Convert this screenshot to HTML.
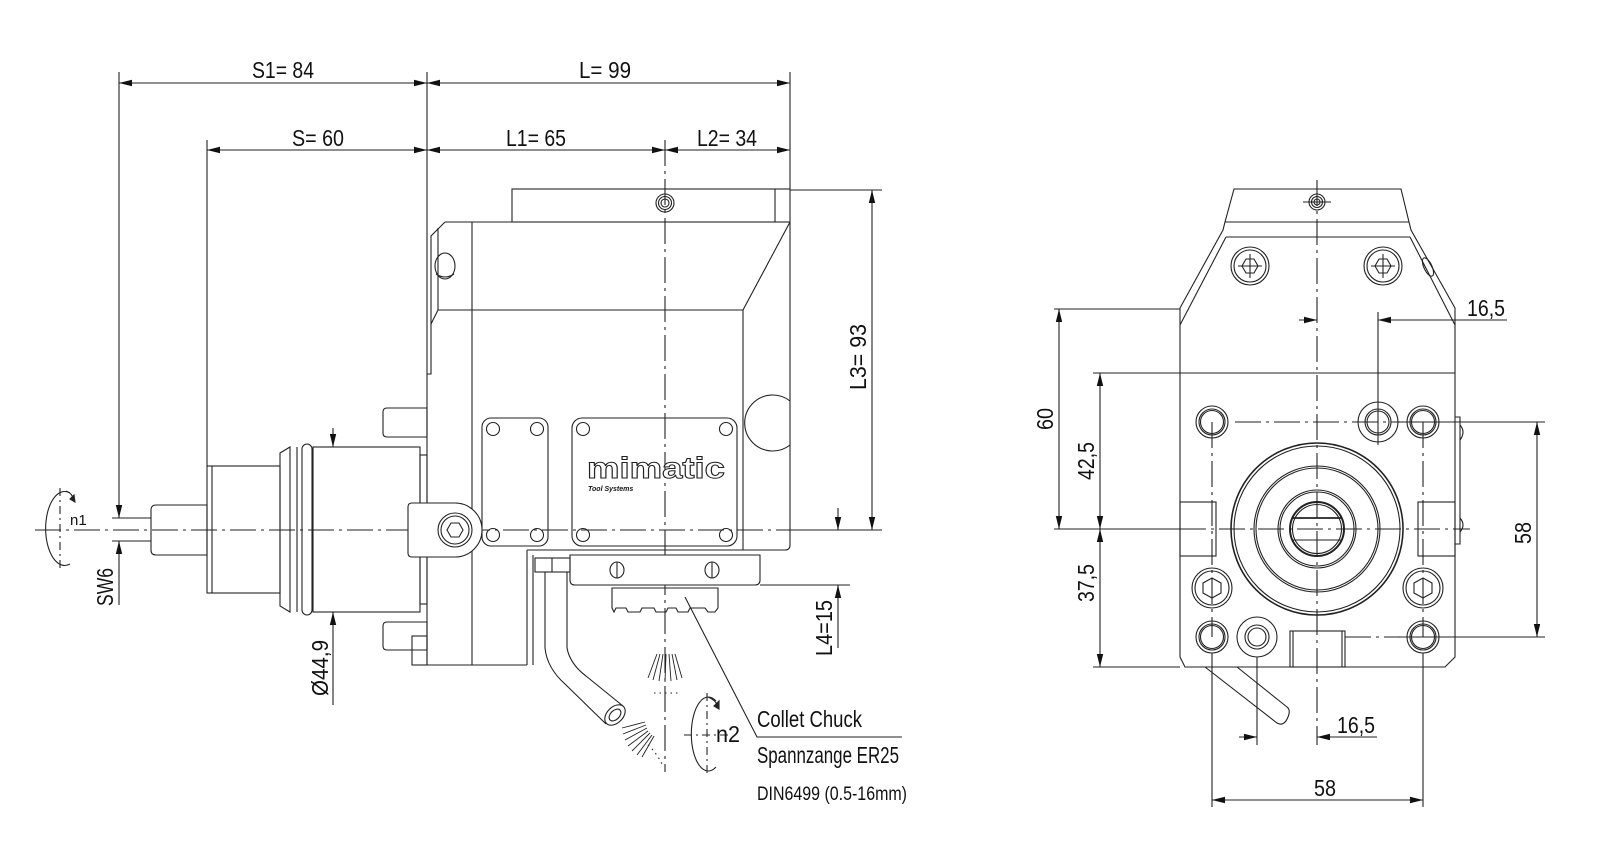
<!DOCTYPE html>
<html><head><meta charset="utf-8"><style>
html,body{margin:0;padding:0;background:#fff;}
svg{display:block;}
text{font-family:"Liberation Sans",sans-serif;fill:#111;}
</style></head><body>
<svg width="1600" height="861" viewBox="0 0 1600 861" xmlns="http://www.w3.org/2000/svg">
<defs>
<marker id="a" markerWidth="14" markerHeight="8" refX="13" refY="4" orient="auto-start-reverse" markerUnits="userSpaceOnUse">
<path d="M0,0.8 L13,4 L0,7.2 Z" fill="#111"/></marker>
</defs>
<g fill="none" stroke="#222" stroke-width="1.1">
<!-- ===== LEFT VIEW DIMENSIONS ===== -->
<line x1="119" y1="83" x2="427" y2="83" marker-start="url(#a)" marker-end="url(#a)"/>
<line x1="427" y1="83" x2="790" y2="83" marker-start="url(#a)" marker-end="url(#a)"/>
<line x1="207" y1="150" x2="427" y2="150" marker-start="url(#a)" marker-end="url(#a)"/>
<line x1="427" y1="150" x2="665" y2="150" marker-start="url(#a)" marker-end="url(#a)"/>
<line x1="665" y1="150" x2="790" y2="150" marker-start="url(#a)" marker-end="url(#a)"/>
<line x1="119" y1="72" x2="119" y2="518" marker-end="url(#a)"/>
<line x1="119" y1="605" x2="119" y2="541" marker-end="url(#a)"/>
<line x1="112" y1="518" x2="151" y2="518"/><line x1="112" y1="541" x2="151" y2="541"/>
<line x1="207" y1="140" x2="207" y2="466"/>
<line x1="427" y1="72" x2="427" y2="222"/>
<line x1="790" y1="72" x2="790" y2="189"/>
<!-- L3 / L4 -->
<line x1="872" y1="190" x2="872" y2="530" marker-start="url(#a)" marker-end="url(#a)"/>
<line x1="790" y1="190" x2="882" y2="190"/>
<line x1="790" y1="530" x2="882" y2="530"/>
<line x1="838" y1="508" x2="838" y2="530" marker-end="url(#a)"/>
<line x1="838" y1="648" x2="838" y2="585" marker-end="url(#a)"/>
<line x1="760" y1="585" x2="850" y2="585"/>
<!-- diameter -->
<line x1="333" y1="428" x2="333" y2="447" marker-end="url(#a)"/>
<line x1="333" y1="705" x2="333" y2="612" marker-end="url(#a)"/>

<!-- axes -->
<line x1="35" y1="530" x2="790" y2="530" stroke-dasharray="26 5 3 5"/>
<line x1="665" y1="140" x2="665" y2="772" stroke-dasharray="26 5 3 5"/>

<!-- n1 -->
<path d="M70,493 A19,37 0 1 0 70,564"/>
<path d="M66,491 Q72,493 74,500" /><path d="M70,499 L75,502 L74,495 Z" fill="#222"/>
<line x1="60" y1="488" x2="60" y2="572" stroke-dasharray="8 4 2 4"/>

<!-- shaft -->
<path d="M156,505 L207,505 L207,555 L156,555 Q151,555 151,550 L151,510 Q151,505 156,505 Z"/>
<rect x="207" y="466" width="73" height="127"/>
<line x1="212" y1="466" x2="212" y2="593"/>
<path d="M280,453 L290,447 L290,612 L280,606 Z"/>
<line x1="297" y1="447" x2="297" y2="612"/>
<rect x="302" y="444" width="10" height="171" rx="5"/>
<rect x="313" y="447" width="107" height="165"/>
<rect x="420" y="455" width="7" height="149"/>
<!-- studs -->
<path d="M387,408 L427,408 L427,437 L387,437 Q383,437 383,433 L383,412 Q383,408 387,408 Z"/>
<path d="M387,622 L427,622 L427,650 L387,650 Q383,650 383,646 L383,626 Q383,622 387,622 Z"/>
<rect x="412" y="636" width="15" height="29"/>

<!-- main body -->
<rect x="512" y="189" width="278" height="33"/>
<line x1="775" y1="189" x2="775" y2="222"/>
<circle cx="665" cy="203" r="9"/><circle cx="665" cy="203" r="6.5"/><circle cx="665" cy="203" r="4"/>
<line x1="445" y1="222" x2="790" y2="222"/>
<polyline points="445,222 431,236 431,374 427,374"/>
<polyline points="438,228 438,310 431,324"/>
<line x1="427" y1="222" x2="427" y2="665"/>
<ellipse cx="445" cy="266" rx="10" ry="13"/>
<path d="M436,274 Q445,280 454,274"/>
<line x1="472" y1="222" x2="472" y2="665"/>
<line x1="438" y1="310" x2="743" y2="310"/>
<line x1="790" y1="222" x2="743" y2="310"/>
<line x1="743" y1="310" x2="743" y2="550"/>
<path d="M790,222 L790,545 Q790,550 785,550 L527,550"/>
<path d="M790,401 A28,28 0 1 0 790,445"/>
<line x1="412" y1="665" x2="527" y2="665"/>
<line x1="527" y1="550" x2="527" y2="665"/>
<line x1="533" y1="555" x2="533" y2="665"/>
<!-- plates -->
<rect x="482" y="418" width="66" height="128" rx="9"/>
<circle cx="493" cy="429" r="6.5"/><circle cx="537" cy="429" r="6.5"/><circle cx="493" cy="535" r="6.5"/><circle cx="537" cy="535" r="6.5"/>
<rect x="572" y="418" width="165" height="128" rx="10"/>
<circle cx="583" cy="429" r="6.5"/><circle cx="726" cy="429" r="6.5"/><circle cx="583" cy="535" r="6.5"/><circle cx="726" cy="535" r="6.5"/>
<!-- clamp -->
<path d="M412,503 L455,503 A27,27 0 0 1 455,557 L412,557 Q408,557 408,553 L408,507 Q408,503 412,503 Z" fill="#fff"/>
<circle cx="455" cy="530" r="17"/><circle cx="455" cy="530" r="14"/>
<polygon points="463,530 459,537 451,537 447,530 451,523 459,523"/>
<!-- collet housing -->
<path d="M570,555 L760,555 L760,580 Q760,585 755,585 L575,585 Q570,585 570,580 Z" fill="#fff"/>
<ellipse cx="617" cy="570" rx="7" ry="8"/><line x1="617" y1="562" x2="617" y2="578"/>
<ellipse cx="712" cy="570" rx="7" ry="8"/><line x1="712" y1="562" x2="712" y2="578"/>
<path d="M608,585 L722,585 M612,588 L718,588 L718,608 L715,612 L708,612 L705,608 L690,608 L688,612 L678,612 L676,608 L668,608 L666,612 L656,612 L654,608 L642,608 L640,612 L628,612 L626,608 L616,608 L614,612 L612,608 Z"/>
<rect x="535" y="558" width="35" height="14"/><line x1="552" y1="558" x2="552" y2="572"/>
<!-- pipe -->
<path d="M545,572 L545,648 Q547,668 565,684 L606,724"/>
<path d="M567,572 L567,648 Q570,664 586,676 L623,706"/>
<ellipse cx="615" cy="715" rx="8" ry="12" transform="rotate(45 615 715)"/>
<ellipse cx="615" cy="715" rx="4.5" ry="7" transform="rotate(45 615 715)"/>
<!-- fans -->
<g stroke-width="0.9">
<line x1="657" y1="654" x2="648" y2="678"/><line x1="660" y1="654" x2="653" y2="680"/><line x1="663" y1="654" x2="659" y2="681"/><line x1="666" y1="654" x2="665" y2="682"/><line x1="669" y1="654" x2="671" y2="681"/><line x1="672" y1="654" x2="677" y2="680"/><line x1="675" y1="654" x2="682" y2="678"/>
<line x1="645" y1="722" x2="622" y2="728"/><line x1="646" y1="725" x2="623" y2="734"/><line x1="647" y1="728" x2="625" y2="740"/><line x1="648" y1="731" x2="628" y2="746"/><line x1="650" y1="733" x2="632" y2="751"/><line x1="652" y1="735" x2="637" y2="755"/><line x1="654" y1="736" x2="642" y2="757"/>
</g>
<line x1="654" y1="693" x2="680" y2="693" stroke-dasharray="1.5 4"/>
<path d="M648,745 Q656,752 662,764" stroke-dasharray="1.5 4"/>
<!-- n2 -->
<path d="M716,701 A17,37 0 1 0 716,767"/>
<path d="M708,697 Q716,700 718,707"/><path d="M714,706 L719,709 L719,701 Z" fill="#222"/>
<line x1="707" y1="693" x2="707" y2="775" stroke-dasharray="8 4 2 4"/>
<line x1="684" y1="735" x2="730" y2="735" stroke-dasharray="8 4 2 4"/>
<!-- leader -->
<polyline points="685,597 757,737 902,737"/>

<!-- ===== RIGHT VIEW ===== -->
<path d="M1234,189 L1401,189 L1409,222 L1411,230 L1455,308 L1455,657 L1445,667 L1185,667 L1180,657 L1180,308 L1223,230 L1225,222 Z"/>
<line x1="1225" y1="222" x2="1409" y2="222"/>
<line x1="1226" y1="237" x2="1410" y2="237"/>
<line x1="1226" y1="237" x2="1180" y2="325"/>
<line x1="1410" y1="237" x2="1455" y2="325"/>
<ellipse cx="1428" cy="267" rx="4" ry="10" transform="rotate(-25 1428 267)"/>
<circle cx="1317" cy="202" r="8"/><circle cx="1317" cy="202" r="5.5"/><circle cx="1317" cy="202" r="3"/>
<line x1="1303" y1="202" x2="1331" y2="202"/>
<!-- upper bolts -->
<circle cx="1250" cy="266" r="19"/><circle cx="1250" cy="266" r="16"/>
<polygon points="1258,266 1254,273 1246,273 1242,266 1246,259 1254,259"/>
<line x1="1238" y1="266" x2="1262" y2="266"/><line x1="1250" y1="254" x2="1250" y2="278"/>
<circle cx="1383" cy="266" r="19"/><circle cx="1383" cy="266" r="16"/>
<polygon points="1391,266 1387,273 1379,273 1375,266 1379,259 1387,259"/>
<line x1="1371" y1="266" x2="1395" y2="266"/><line x1="1383" y1="254" x2="1383" y2="278"/>
<!-- body lines & dims -->
<line x1="1054" y1="309" x2="1180" y2="309"/>
<line x1="1093" y1="373" x2="1455" y2="373"/>
<line x1="1054" y1="529" x2="1180" y2="529"/>
<line x1="1093" y1="667" x2="1180" y2="667"/>
<line x1="1059" y1="309" x2="1059" y2="529" marker-start="url(#a)" marker-end="url(#a)"/>
<line x1="1100" y1="373" x2="1100" y2="529" marker-start="url(#a)" marker-end="url(#a)"/>
<line x1="1100" y1="529" x2="1100" y2="667" marker-start="url(#a)" marker-end="url(#a)"/>
<line x1="1180" y1="529" x2="1470" y2="529" stroke-dasharray="26 5 3 5"/>
<line x1="1317" y1="180" x2="1317" y2="745" stroke-dasharray="26 5 3 5"/>
<!-- 16,5 top -->
<line x1="1299" y1="320" x2="1317" y2="320" marker-end="url(#a)"/>
<line x1="1507" y1="320" x2="1378" y2="320" marker-end="url(#a)"/>
<line x1="1378" y1="312" x2="1378" y2="445"/>
<!-- holes -->
<line x1="1235" y1="422" x2="1400" y2="422" stroke-dasharray="26 5 3 5"/>
<line x1="1400" y1="422" x2="1545" y2="422"/>
<line x1="1212" y1="422" x2="1212" y2="637" stroke-dasharray="26 5 3 5"/>
<line x1="1423" y1="422" x2="1423" y2="637" stroke-dasharray="26 5 3 5"/>
<line x1="1345" y1="637" x2="1400" y2="637" stroke-dasharray="26 5 3 5"/>
<line x1="1400" y1="637" x2="1545" y2="637"/>
<circle cx="1212" cy="422" r="16"/><circle cx="1212" cy="422" r="13"/><circle cx="1212" cy="422" r="11.5"/>
<circle cx="1423" cy="422" r="16"/><circle cx="1423" cy="422" r="13"/><circle cx="1423" cy="422" r="11.5"/>
<circle cx="1378" cy="422" r="20"/><circle cx="1378" cy="422" r="13"/><circle cx="1378" cy="422" r="11"/>
<circle cx="1212" cy="637" r="16"/><circle cx="1212" cy="637" r="13"/><circle cx="1212" cy="637" r="11.5"/>
<circle cx="1423" cy="637" r="16"/><circle cx="1423" cy="637" r="13"/><circle cx="1423" cy="637" r="11.5"/>
<circle cx="1257" cy="637" r="20"/><circle cx="1257" cy="637" r="12"/><circle cx="1257" cy="637" r="9"/>
<circle cx="1212" cy="588" r="20"/><circle cx="1212" cy="588" r="17"/>
<polygon points="1212,578 1221,583 1221,593 1212,598 1203,593 1203,583"/>
<circle cx="1423" cy="588" r="20"/><circle cx="1423" cy="588" r="17"/>
<polygon points="1423,578 1432,583 1432,593 1423,598 1414,593 1414,583"/>
<!-- big circles -->
<circle cx="1317" cy="529" r="86" stroke-width="1.6"/><circle cx="1317" cy="529" r="83"/>
<circle cx="1317" cy="529" r="63"/><circle cx="1317" cy="529" r="61"/>
<circle cx="1317" cy="529" r="39"/><circle cx="1317" cy="529" r="37"/>
<circle cx="1317" cy="529" r="27" stroke-width="2"/><circle cx="1317" cy="529" r="24.5"/>
<line x1="1293" y1="518" x2="1341" y2="518" stroke-width="1.8"/><line x1="1293" y1="540" x2="1341" y2="540"/>
<!-- side rects -->
<rect x="1180" y="502" width="36" height="54"/>
<rect x="1418" y="502" width="37" height="54"/>
<path d="M1455,417 L1460,417 L1460,544 L1455,544"/>
<path d="M1460,425 Q1466,432 1460,440 M1460,518 Q1466,525 1460,532"/>
<rect x="1290" y="631" width="55" height="36"/>
<line x1="1293" y1="631" x2="1293" y2="667"/><line x1="1342" y1="631" x2="1342" y2="667"/>
<!-- pipe stub -->
<path d="M1205,667 L1277,723 Q1284,727 1288,717 Q1291,710 1287,707 L1237,667"/>
<!-- right 58 -->
<line x1="1537" y1="422" x2="1537" y2="637" marker-start="url(#a)" marker-end="url(#a)"/>
<!-- bottom dims -->
<line x1="1212" y1="653" x2="1212" y2="807"/>
<line x1="1423" y1="653" x2="1423" y2="807"/>
<line x1="1257" y1="657" x2="1257" y2="745"/>
<line x1="1212" y1="800" x2="1423" y2="800" marker-start="url(#a)" marker-end="url(#a)"/>
<line x1="1239" y1="737" x2="1257" y2="737" marker-end="url(#a)"/>
<line x1="1377" y1="737" x2="1317" y2="737" marker-end="url(#a)"/>
</g>

<!-- ===== TEXT ===== -->
<g font-size="23">
<text x="283" y="78" text-anchor="middle" textLength="62" lengthAdjust="spacingAndGlyphs">S1= 84</text>
<text x="605" y="78" text-anchor="middle" textLength="52" lengthAdjust="spacingAndGlyphs">L= 99</text>
<text x="318" y="146" text-anchor="middle" textLength="52" lengthAdjust="spacingAndGlyphs">S= 60</text>
<text x="536" y="146" text-anchor="middle" textLength="60" lengthAdjust="spacingAndGlyphs">L1= 65</text>
<text x="727" y="146" text-anchor="middle" textLength="60" lengthAdjust="spacingAndGlyphs">L2= 34</text>
<text transform="translate(866,357) rotate(-90)" text-anchor="middle" textLength="66" lengthAdjust="spacingAndGlyphs">L3= 93</text>
<text transform="translate(832,628) rotate(-90)" text-anchor="middle" textLength="56" lengthAdjust="spacingAndGlyphs">L4=15</text>
<text transform="translate(328,668) rotate(-90)" text-anchor="middle" textLength="56" lengthAdjust="spacingAndGlyphs">Ø44,9</text>
<text transform="translate(113,587) rotate(-90)" text-anchor="middle" textLength="38" lengthAdjust="spacingAndGlyphs">SW6</text>
<text x="716" y="742" textLength="24" lengthAdjust="spacingAndGlyphs">n2</text>
<text x="757" y="727" textLength="105" lengthAdjust="spacingAndGlyphs">Collet Chuck</text>
<text x="757" y="763" textLength="142" lengthAdjust="spacingAndGlyphs">Spannzange ER25</text>
<text x="757" y="800" font-size="19" textLength="150" lengthAdjust="spacingAndGlyphs">DIN6499 (0.5-16mm)</text>
<text x="1486" y="316" text-anchor="middle" textLength="38" lengthAdjust="spacingAndGlyphs">16,5</text>
<text x="1356" y="733" text-anchor="middle" textLength="38" lengthAdjust="spacingAndGlyphs">16,5</text>
<text x="1325" y="796" text-anchor="middle" textLength="22" lengthAdjust="spacingAndGlyphs">58</text>
<text transform="translate(1531,533) rotate(-90)" text-anchor="middle" textLength="22" lengthAdjust="spacingAndGlyphs">58</text>
<text transform="translate(1053,419) rotate(-90)" text-anchor="middle" textLength="22" lengthAdjust="spacingAndGlyphs">60</text>
<text transform="translate(1094,461) rotate(-90)" text-anchor="middle" textLength="38" lengthAdjust="spacingAndGlyphs">42,5</text>
<text transform="translate(1094,583) rotate(-90)" text-anchor="middle" textLength="38" lengthAdjust="spacingAndGlyphs">37,5</text>
</g>
<text x="70" y="525" font-size="15">n1</text>
<text x="656" y="478" text-anchor="middle" font-size="30" font-weight="bold" style="fill:#fff;stroke:#222;stroke-width:1" textLength="138" lengthAdjust="spacingAndGlyphs">mimatic</text>
<text x="588" y="491" font-size="7" font-weight="bold" font-style="italic">Tool Systems</text>
</svg>
</body></html>
